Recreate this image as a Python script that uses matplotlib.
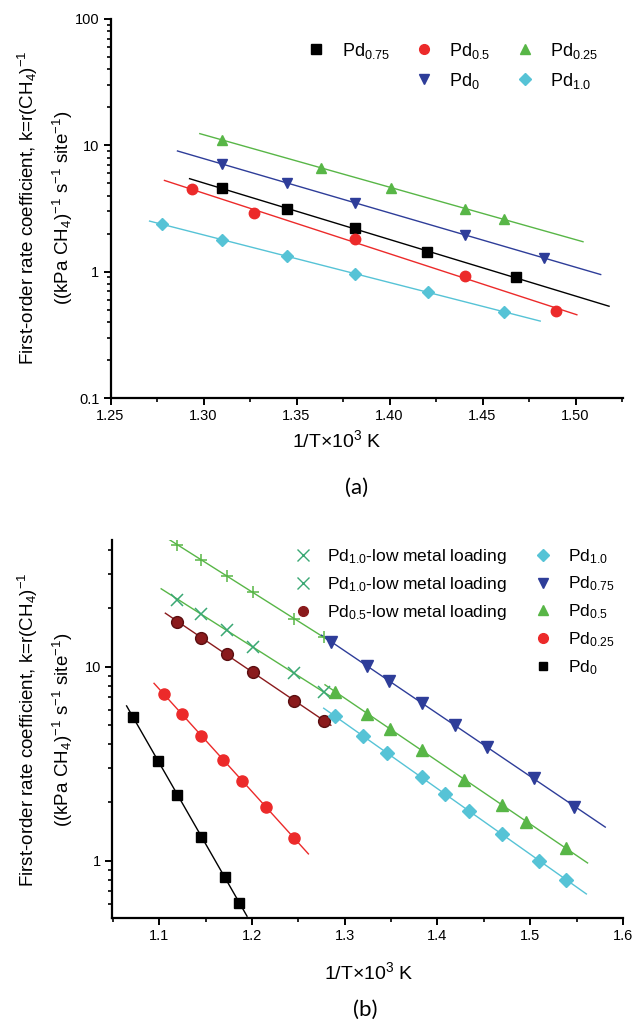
# -*- coding: utf-8 -*-
import numpy as np
import matplotlib as mpl
mpl.use('Agg')
import matplotlib.pyplot as plt
from matplotlib.lines import Line2D
from matplotlib.ticker import FixedLocator, FormatStrFormatter, LogLocator, NullFormatter, MultipleLocator

plt.rcParams['font.family'] = ['Liberation Sans', 'DejaVu Sans']
plt.rcParams['mathtext.fontset'] = 'custom'
plt.rcParams['mathtext.rm'] = 'Liberation Sans'
plt.rcParams['mathtext.it'] = 'Liberation Sans:italic'
plt.rcParams['mathtext.bf'] = 'Liberation Sans:bold'

# ---- panel (a) data ----
a_x_075 = [1.310, 1.345, 1.3815, 1.420, 1.468]
a_y_075 = [4.57, 3.13, 2.22, 1.43, 0.90]
a_x_05 = [1.294, 1.327, 1.3815, 1.4406, 1.4893]
a_y_05 = [4.51, 2.90, 1.81, 0.93, 0.49]
a_x_025 = [1.310, 1.363, 1.401, 1.4406, 1.4616]
a_y_025 = [11.1, 6.6, 4.6, 3.15, 2.61]
a_x_0 = [1.310, 1.345, 1.3815, 1.4406, 1.483]
a_y_0 = [7.1, 5.04, 3.5, 1.96, 1.28]
a_x_10 = [1.2775, 1.310, 1.345, 1.3815, 1.4206, 1.4616]
a_y_10 = [2.38, 1.79, 1.32, 0.96, 0.69, 0.48]
# fit line extents
a_fit_075 = [1.2925, 1.518]
a_fit_05 = [1.279, 1.5007]
a_fit_025 = [1.298, 1.504]
a_fit_0 = [1.286, 1.5135]
a_fit_10 = [1.271, 1.481]

# ---- panel (b) data ----
b_x_0 = [1.0717, 1.0987, 1.1196, 1.1453, 1.171, 1.1863]
b_y_0 = [5.52, 3.26, 2.18, 1.33, 0.82, 0.607]
b_x_025 = [1.1052, 1.124, 1.1453, 1.1688, 1.1889, 1.215, 1.2455]
b_y_025 = [7.22, 5.74, 4.41, 3.30, 2.59, 1.90, 1.31]
b_x_low = [1.1196, 1.1453, 1.1728, 1.201, 1.2455, 1.2773]
b_y_05low = [17.1, 14.1, 11.6, 9.35, 6.70, 5.28]
b_y_10low_a = [42.4, 35.5, 29.5, 24.3, 17.6, 14.2]
b_y_10low_b = [22.2, 18.6, 15.5, 12.7, 9.24, 7.38]
b_x_075 = [1.285, 1.3244, 1.348, 1.3828, 1.419, 1.4538, 1.5039, 1.5475]
b_y_075 = [13.4, 10.1, 8.47, 6.52, 5.00, 3.84, 2.66, 1.90]
b_x_05 = [1.2895, 1.3244, 1.3492, 1.3828, 1.4285, 1.47, 1.496, 1.5388]
b_y_05 = [7.44, 5.74, 4.79, 3.72, 2.62, 1.94, 1.59, 1.16]
b_x_10 = [1.2895, 1.3196, 1.3458, 1.3828, 1.408, 1.4342, 1.47, 1.5096, 1.5388]
b_y_10 = [5.57, 4.40, 3.58, 2.69, 2.21, 1.80, 1.37, 1.0, 0.80]
b_fit_0 = [1.0647, 1.1946]
b_fit_025 = [1.0943, 1.2608]
b_fit_05low = [1.1065, 1.285]
b_fit_10low_a = [1.1074, 1.283]
b_fit_10low_b = [1.102, 1.285]
b_fit_075 = [1.275, 1.581]
b_fit_05 = [1.2787, 1.5619]
b_fit_10 = [1.2773, 1.5606]

c_black = '#000000'
c_red = '#ec2a2a'
c_green = '#58b647'
c_blue = '#2e3d99'
c_cyan = '#56c3d6'
c_dred = '#8a1a1c'
c_cross = '#3aa874'


def fit_line(ax, x, y, rng, color):
    p = np.polyfit(x, np.log10(y), 1)
    xx = np.linspace(rng[0], rng[1], 50)
    ax.plot(xx, 10 ** np.polyval(p, xx), color=color, lw=1.0, zorder=2)


def style_axes(ax):
    for s in ['top', 'right']:
        ax.spines[s].set_visible(False)
    for s in ['left', 'bottom']:
        ax.spines[s].set_linewidth(1.6)
    ax.tick_params(which='major', direction='out', length=5, width=1.4, labelsize=10.5, pad=3)
    ax.tick_params(which='minor', direction='out', length=3, width=1.2)


fig = plt.figure(figsize=(6.33, 10.25), dpi=100)

# ---------------- panel (a) ----------------
ax1 = fig.add_axes([0.1746, 0.6117, 0.8096, 0.3698])
ax1.set_yscale('log')
series_a = [
    (a_x_075, a_y_075, a_fit_075, c_black, 's'),
    (a_x_05, a_y_05, a_fit_05, c_red, 'o'),
    (a_x_025, a_y_025, a_fit_025, c_green, '^'),
    (a_x_0, a_y_0, a_fit_0, c_blue, 'v'),
    (a_x_10, a_y_10, a_fit_10, c_cyan, 'D'),
]
for x, y, rng, col, m in series_a:
    fit_line(ax1, x, y, rng, col)
    ax1.plot(x, y, ls='none', marker=m, color=col, ms=7.5 if m != 'D' else 6.5, mec=col, zorder=3)
ax1.set_xlim(1.25, 1.5255)
ax1.set_ylim(0.1, 100)
ax1.xaxis.set_major_locator(MultipleLocator(0.05))
ax1.xaxis.set_minor_locator(MultipleLocator(0.025))
ax1.xaxis.set_major_formatter(FormatStrFormatter('%.2f'))
ax1.yaxis.set_major_locator(FixedLocator([0.1, 1, 10, 100]))
ax1.yaxis.set_major_formatter(FormatStrFormatter('%g'))
ax1.yaxis.set_minor_locator(LogLocator(base=10, subs=np.arange(2, 10)))
ax1.yaxis.set_minor_formatter(NullFormatter())
style_axes(ax1)

blank = Line2D([], [], ls='none', marker=None)
h_a = [
    Line2D([], [], ls='none', marker='s', color=c_black, ms=7),
    blank,
    Line2D([], [], ls='none', marker='o', color=c_red, ms=7),
    Line2D([], [], ls='none', marker='v', color=c_blue, ms=7),
    Line2D([], [], ls='none', marker='^', color=c_green, ms=7),
    Line2D([], [], ls='none', marker='D', color=c_cyan, ms=6),
]
l_a = ['Pd$_{0.75}$', '', 'Pd$_{0.5}$', 'Pd$_{0}$', 'Pd$_{0.25}$', 'Pd$_{1.0}$']
ax1.legend(h_a, l_a, ncol=3, frameon=False, fontsize=13, loc='upper left',
           bbox_to_anchor=(0.37, 0.962), handlelength=1.0, handletextpad=0.9,
           columnspacing=1.4, labelspacing=0.55, borderaxespad=0)

fig.text(28 / 633, 1 - 208 / 1025, 'First-order rate coefficient, k=r(CH$_4$)$^{-1}$',
         rotation=90, ha='center', va='center', fontsize=13.5)
fig.text(63 / 633, 1 - 208 / 1025, '((kPa CH$_4$)$^{-1}$ s$^{-1}$ site$^{-1}$)',
         rotation=90, ha='center', va='center', fontsize=13.5)
fig.text(337 / 633, 1 - 440 / 1025, '1/T×10$^3$ K', ha='center', va='center', fontsize=14)
fig.text(357 / 633, 1 - 488 / 1025, '(a)', ha='center', va='center', fontsize=16,
         family=['Lato', 'DejaVu Sans'])

# ---------------- panel (b) ----------------
ax2 = fig.add_axes([0.177, 0.1041, 0.807, 0.369])
ax2.set_yscale('log')
fit_line(ax2, b_x_0, b_y_0, b_fit_0, c_black)
fit_line(ax2, b_x_025, b_y_025, b_fit_025, c_red)
fit_line(ax2, b_x_low, b_y_05low, b_fit_05low, c_dred)
fit_line(ax2, b_x_low, b_y_10low_a, b_fit_10low_a, c_green)
fit_line(ax2, b_x_low, b_y_10low_b, b_fit_10low_b, c_green)
fit_line(ax2, b_x_075, b_y_075, b_fit_075, c_blue)
fit_line(ax2, b_x_05, b_y_05, b_fit_05, c_green)
fit_line(ax2, b_x_10, b_y_10, b_fit_10, c_cyan)

ax2.plot(b_x_0, b_y_0, ls='none', marker='s', color=c_black, ms=7.5, zorder=3)
ax2.plot(b_x_025, b_y_025, ls='none', marker='o', color=c_red, ms=8, zorder=3)
ax2.plot(b_x_low, b_y_05low, ls='none', marker='o', color=c_dred, mec='#5a0e10', ms=8.5, zorder=3)
ax2.plot(b_x_low, b_y_10low_a, ls='none', marker='+', color=c_green, ms=9, mew=1.1, zorder=3)
ax2.plot(b_x_low, b_y_10low_b, ls='none', marker='x', color=c_cross, ms=8, mew=1.1, zorder=3)
ax2.plot(b_x_075, b_y_075, ls='none', marker='v', color=c_blue, ms=9, zorder=3)
ax2.plot(b_x_05, b_y_05, ls='none', marker='^', color=c_green, ms=9, zorder=3)
ax2.plot(b_x_10, b_y_10, ls='none', marker='D', color=c_cyan, ms=7.5, zorder=3)

ax2.set_xlim(1.049, 1.6)
ax2.set_ylim(0.505, 45)
ax2.xaxis.set_major_locator(MultipleLocator(0.1))
ax2.xaxis.set_minor_locator(MultipleLocator(0.05))
ax2.xaxis.set_major_formatter(FormatStrFormatter('%.1f'))
ax2.yaxis.set_major_locator(FixedLocator([1, 10]))
ax2.yaxis.set_major_formatter(FormatStrFormatter('%g'))
ax2.yaxis.set_minor_locator(LogLocator(base=10, subs=np.arange(2, 10)))
ax2.yaxis.set_minor_formatter(NullFormatter())
style_axes(ax2)

h_b = [
    Line2D([], [], ls='none', marker='x', color=c_cross, ms=8, mew=1.0),
    Line2D([], [], ls='none', marker='x', color=c_cross, ms=8, mew=1.0),
    Line2D([], [], ls='none', marker='o', color=c_dred, ms=7),
    blank, blank,
    Line2D([], [], ls='none', marker='D', color=c_cyan, ms=6.5),
    Line2D([], [], ls='none', marker='v', color=c_blue, ms=7.5),
    Line2D([], [], ls='none', marker='^', color=c_green, ms=7.5),
    Line2D([], [], ls='none', marker='o', color=c_red, ms=7),
    Line2D([], [], ls='none', marker='s', color=c_black, ms=6),
]
l_b = ['Pd$_{1.0}$-low metal loading', 'Pd$_{1.0}$-low metal loading',
       'Pd$_{0.5}$-low metal loading', '', '',
       'Pd$_{1.0}$', 'Pd$_{0.75}$', 'Pd$_{0.5}$', 'Pd$_{0.25}$', 'Pd$_{0}$']
ax2.legend(h_b, l_b, ncol=2, frameon=False, fontsize=12.5, loc='upper left',
           bbox_to_anchor=(0.343, 1.0), handlelength=1.0, handletextpad=0.9,
           columnspacing=1.6, labelspacing=0.52, borderaxespad=0)

fig.text(28 / 633, 1 - 730 / 1025, 'First-order rate coefficient, k=r(CH$_4$)$^{-1}$',
         rotation=90, ha='center', va='center', fontsize=13.5)
fig.text(63 / 633, 1 - 730 / 1025, '((kPa CH$_4$)$^{-1}$ s$^{-1}$ site$^{-1}$)',
         rotation=90, ha='center', va='center', fontsize=13.5)
fig.text(369 / 633, 1 - 972 / 1025, '1/T×10$^3$ K', ha='center', va='center', fontsize=14)
fig.text(365 / 633, 1 - 1010 / 1025, '(b)', ha='center', va='center', fontsize=16,
         family=['Lato', 'DejaVu Sans'])

fig.savefig('out.png', dpi=100)
